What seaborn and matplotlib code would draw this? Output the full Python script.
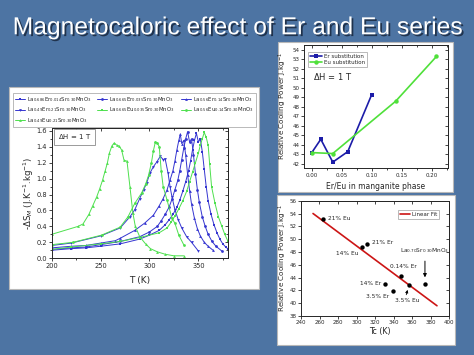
import numpy as np
import seaborn as sns
import matplotlib.pyplot as plt
import matplotlib.patheffects as pe
from matplotlib.patches import Rectangle
from matplotlib.ticker import MultipleLocator
from matplotlib import font_manager

W, H = 474, 355

# ---- main panel: -dS_M vs T, dH = 1 T ----
t_er014 = [200, 220, 235, 250, 270, 290, 300, 310, 316, 320, 324, 328, 331, 334, 337, 340, 342, 344,
           346, 348, 350, 352, 354, 356, 358, 360, 363, 366, 369, 372, 375, 378, 380]
s_er014 = [0.10, 0.12, 0.13, 0.15, 0.18, 0.24, 0.29, 0.35, 0.42, 0.48, 0.55, 0.64, 0.73, 0.84, 0.96, 1.10,
           1.22, 1.36, 1.48, 1.57, 1.46, 1.50, 1.34, 1.12, 0.90, 0.72, 0.55, 0.42, 0.32, 0.24, 0.18, 0.14, 0.12]
t_er035 = [200, 220, 235, 250, 270, 290, 300, 308, 312, 316, 320, 323, 326, 329, 331, 333, 335, 337, 339,
           341, 343, 345, 347, 349, 351, 354, 357, 360, 364, 368, 374]
s_er035 = [0.11, 0.13, 0.14, 0.17, 0.21, 0.27, 0.33, 0.40, 0.47, 0.55, 0.64, 0.74, 0.86, 0.98, 1.10, 1.24,
           1.38, 1.50, 1.59, 1.46, 1.50, 1.30, 1.06, 0.86, 0.70, 0.52, 0.40, 0.30, 0.21, 0.15, 0.09]
t_er14 = [200, 220, 235, 250, 265, 270, 285, 295, 304, 310, 314, 318, 321, 324, 326, 328, 330, 331.5, 333,
          335, 337, 339, 341, 343, 346, 349, 352, 356, 360, 365]
s_er14 = [0.13, 0.15, 0.16, 0.19, 0.22, 0.25, 0.35, 0.44, 0.54, 0.66, 0.75, 0.86, 0.98, 1.10, 1.22, 1.36,
          1.48, 1.56, 1.44, 1.48, 1.30, 1.05, 0.85, 0.68, 0.50, 0.37, 0.28, 0.20, 0.15, 0.10]
t_er21 = [200, 220, 250, 270, 280, 285, 290, 294, 297, 300.5, 304, 307.5, 311, 314, 316, 319, 321, 323,
          326, 329.5, 333, 338, 343, 350]
s_er21 = [0.16, 0.19, 0.28, 0.38, 0.52, 0.61, 0.75, 0.86, 0.94, 1.07, 1.15, 1.21, 1.28, 1.24, 1.25, 1.07,
          0.90, 0.77, 0.61, 0.48, 0.38, 0.27, 0.20, 0.09]
t_eu035 = [200, 220, 250, 270, 290, 310, 318, 322, 326, 330, 334, 338, 341, 344, 347, 350, 352, 354, 356,
           358, 360, 361.5, 363.5, 367, 370.5, 374, 377, 380]
s_eu035 = [0.11, 0.14, 0.18, 0.21, 0.26, 0.32, 0.38, 0.45, 0.53, 0.62, 0.72, 0.84, 0.96, 1.08, 1.20, 1.32,
           1.42, 1.50, 1.58, 1.52, 1.42, 1.19, 0.90, 0.69, 0.52, 0.40, 0.30, 0.22]
t_eu14 = [200, 222, 251, 270, 278, 285, 292, 296, 299, 302, 304, 306, 308, 310, 312, 314, 318, 323, 326,
          330, 335]
s_eu14 = [0.17, 0.20, 0.29, 0.39, 0.52, 0.69, 0.82, 0.93, 1.04, 1.20, 1.35, 1.46, 1.45, 1.40, 1.10, 0.90,
          0.73, 0.50, 0.44, 0.29, 0.17]
t_eu21 = [200, 227, 232, 238, 242, 246, 249, 252, 254.5, 257, 259, 261.5, 264, 266.5, 269, 271.5, 274,
          277, 280, 283, 285.5, 290, 296, 301, 308, 316, 325, 335]
s_eu21 = [0.30, 0.40, 0.43, 0.55, 0.66, 0.77, 0.87, 0.98, 1.09, 1.20, 1.32, 1.41, 1.45, 1.42, 1.41, 1.36,
          1.23, 1.22, 0.90, 0.57, 0.40, 0.27, 0.18, 0.12, 0.08, 0.05, 0.03, 0.03]

names = [r'La$_{0.686}$Er$_{0.014}$Sr$_{0.30}$MnO$_3$', r'La$_{0.665}$Er$_{0.035}$Sr$_{0.30}$MnO$_3$',
         r'La$_{0.56}$Er$_{0.14}$Sr$_{0.30}$MnO$_3$', r'La$_{0.49}$Er$_{0.21}$Sr$_{0.30}$MnO$_3$',
         r'La$_{0.665}$Eu$_{0.035}$Sr$_{0.30}$MnO$_3$', r'La$_{0.56}$Eu$_{0.14}$Sr$_{0.30}$MnO$_3$',
         r'La$_{0.49}$Eu$_{0.21}$Sr$_{0.30}$MnO$_3$']

# ---- top right: RCP vs substitution ----
x_er = [0.0, 0.015, 0.035, 0.06, 0.10]
rcp_er = [43.2, 44.6, 42.2, 43.3, 49.3]
x_eu = [0.0, 0.035, 0.14, 0.208]
rcp_eu = [43.2, 43.1, 48.6, 53.3]

# ---- bottom right: RCP vs Tc ----
tc = [264, 311, 306, 348, 331, 339, 357, 374]
rcp = [53.2, 49.3, 48.7, 44.3, 43.0, 41.9, 42.8, 43.0]
pt_labels = ['21% Eu', '21% Er', '14% Eu', '0.14% Er', '14% Er', '3.5% Er', '3.5% Eu', '']
fit_x = [253, 387]
fit_y = [54.0, 39.6]

sns.set_style('ticks')
plt.rcParams['font.family'] = ['DejaVu Sans']
plt.rcParams['mathtext.fontset'] = 'dejavusans'
plt.rcParams['axes.linewidth'] = 0.7

fig = plt.figure(figsize=(W / 100, H / 100), dpi=100)
fig.patch.set_facecolor('#4d74a3')


def box(x0, y0, x1, y1):
    # pixel box (y from top) -> figure fraction rect
    return [x0 / W, 1 - y1 / H, (x1 - x0) / W, (y1 - y0) / H]


def fx(x):
    return x / W


def fy(y):
    return 1 - y / H


for b in [(9, 87, 259, 289), (278, 42, 453, 192), (277, 195, 455, 345)]:
    r = box(*b)
    fig.patches.append(Rectangle(r[:2], r[2], r[3], transform=fig.transFigure,
                                 facecolor='white', edgecolor='#b8b8b8', lw=0.8, zorder=-1))


def mirror(ax, xmaj, ymaj, xmin=None, ymin=None):
    sx = ax.secondary_xaxis('top')
    sx.xaxis.set_major_locator(MultipleLocator(xmaj))
    if xmin:
        sx.xaxis.set_minor_locator(MultipleLocator(xmin))
    sx.tick_params(which='both', direction='in', labeltop=False, length=2, width=0.6)
    sx.tick_params(which='minor', length=1.2)
    sy = ax.secondary_yaxis('right')
    sy.yaxis.set_major_locator(MultipleLocator(ymaj))
    if ymin:
        sy.yaxis.set_minor_locator(MultipleLocator(ymin))
    sy.tick_params(which='both', direction='in', labelright=False, length=2, width=0.6)
    sy.tick_params(which='minor', length=1.2)


# main panel
ax = fig.add_axes(box(51.7, 127.7, 227.7, 258.2))
blue = '#3535d0'
green = '#4ee04e'
series = [(t_er014, s_er014, blue, 's'), (t_er035, s_er035, blue, 'o'), (t_er14, s_er14, blue, '^'),
          (t_er21, s_er21, blue, 'v'), (t_eu035, s_eu035, green, 's'), (t_eu14, s_eu14, green, 'o'),
          (t_eu21, s_eu21, green, '^')]
handles = []
for (t, s, c, m), nm in zip(series, names):
    sns.lineplot(x=t, y=s, ax=ax, color=c, marker=m, markersize=2.0, markeredgewidth=0,
                 linewidth=0.7, sort=False, estimator=None, label=nm)
    handles.append(ax.lines[-1])
ax.set_xlim(200, 380)
ax.set_ylim(0, 1.64)
ax.xaxis.set_major_locator(MultipleLocator(50))
ax.xaxis.set_minor_locator(MultipleLocator(25))
ax.yaxis.set_major_locator(MultipleLocator(0.2))
ax.yaxis.set_minor_locator(MultipleLocator(0.1))
ax.yaxis.set_major_formatter(plt.FormatStrFormatter('%.1f'))
ax.tick_params(which='both', labelsize=4.8, length=2, width=0.6, pad=1.5)
ax.tick_params(which='minor', length=1.2)
mirror(ax, 50, 0.2, 25, 0.1)
order = [0, 3, 6, 1, 4, 2, 5]
ax.legend([handles[i] for i in order], [names[i] for i in order], ncol=3, loc='upper left',
          bbox_to_anchor=box(13, 93, 256, 124), bbox_transform=fig.transFigure, mode='expand',
          borderaxespad=0, fontsize=3.9, handlelength=1.8, handletextpad=0.4, columnspacing=0.5,
          labelspacing=0.25, borderpad=0.4, frameon=True, fancybox=False, edgecolor='#9a9a9a')
ax.get_legend().get_frame().set_linewidth(0.6)
ax.text(0.13, 0.93, r'$\Delta$H = 1 T', transform=ax.transAxes, ha='center', va='center', fontsize=5,
        bbox=dict(boxstyle='square,pad=0.5', fc='white', ec='#8a8a8a', lw=0.6))
fig.text(fx(139.7), fy(280), 'T (K)', ha='center', va='center', fontsize=6.5)
fig.text(fx(29), fy(193), r'-$\Delta$S$_M$ (J.K$^{-1}$.kg$^{-1}$)', ha='center', va='center',
         rotation=90, fontsize=6.2)

# top right panel
ax2 = fig.add_axes(box(304.3, 45, 447.7, 168.3))
sns.lineplot(x=x_er, y=rcp_er, ax=ax2, color='#1c1ca8', marker='s', markersize=3.2, markeredgewidth=0,
             linewidth=1.2, sort=False, estimator=None, label='Er substitution')
sns.lineplot(x=x_eu, y=rcp_eu, ax=ax2, color='#4fe03a', marker='o', markersize=3.2, markeredgewidth=0,
             linewidth=1.2, sort=False, estimator=None, label='Eu substitution')
ax2.set_xlim(-0.0125, 0.2267)
ax2.set_ylim(41.55, 54.5)
ax2.xaxis.set_major_locator(MultipleLocator(0.05))
ax2.xaxis.set_minor_locator(MultipleLocator(0.025))
ax2.yaxis.set_major_locator(MultipleLocator(1))
ax2.xaxis.set_major_formatter(plt.FormatStrFormatter('%.2f'))
ax2.tick_params(which='both', labelsize=4.0, length=2, width=0.6, pad=1.2)
ax2.tick_params(which='minor', length=1.2)
mirror(ax2, 0.05, 1, 0.025)
ax2.legend(loc='upper left', bbox_to_anchor=(fx(308), fy(52)), bbox_transform=fig.transFigure,
           fontsize=4.0, handlelength=2.2, handletextpad=0.4, labelspacing=0.2, borderpad=0.35,
           borderaxespad=0, frameon=True, fancybox=False, edgecolor='#9a9a9a')
ax2.get_legend().get_frame().set_linewidth(0.6)
fig.text(fx(333), fy(76), r'$\Delta$H = 1 T', ha='center', va='center', fontsize=6)
fig.text(fx(376), fy(186.7), 'Er/Eu in manganite phase', ha='center', va='center', fontsize=5.5)
fig.text(fx(283), fy(106), r'Relative Cooling Power J.kg$^{-1}$', ha='center', va='center',
         rotation=90, fontsize=5.2)

# bottom right panel
ax3 = fig.add_axes(box(301, 200.7, 449, 316))
sns.lineplot(x=fit_x, y=fit_y, ax=ax3, color='#cc1515', linewidth=1.2, sort=False, estimator=None,
             label='Linear Fit')
sns.scatterplot(x=tc, y=rcp, ax=ax3, color='black', s=10, linewidth=0, legend=False, zorder=3)
ax3.set_xlim(240, 400)
ax3.set_ylim(38, 56)
ax3.xaxis.set_major_locator(MultipleLocator(20))
ax3.yaxis.set_major_locator(MultipleLocator(2))
ax3.tick_params(which='both', labelsize=4.0, length=2, width=0.6, pad=1.2)
mirror(ax3, 20, 2)
ax3.legend(loc='upper left', bbox_to_anchor=(fx(398), fy(210)), bbox_transform=fig.transFigure,
           fontsize=4.0, handlelength=1.8, handletextpad=0.4, borderpad=0.35, borderaxespad=0,
           frameon=True, fancybox=False, edgecolor='#9a9a9a')
ax3.get_legend().get_frame().set_linewidth(0.6)

offsets = [(5, 0, 'left', 'center'), (5, 1, 'left', 'center'), (-4, -6, 'right', 'center'),
           (2, 7, 'center', 'bottom'), (-4, 0, 'right', 'center'), (-3, -5, 'right', 'center'),
           (-2, -15, 'center', 'center')]
for x, y, lab, (dx, dy, ha, va) in zip(tc, rcp, pt_labels, offsets):
    ax3.annotate(lab, (x, y), xytext=(dx, dy), textcoords='offset pixels', ha=ha, va=va, fontsize=4.2)
ax3.annotate('', xy=(356, 42.5), xytext=(353, 40.9),
             arrowprops=dict(arrowstyle='-|>', color='black', lw=0.6, mutation_scale=4))
ax3.annotate('', xy=(374, 43.6), xytext=(374, 47.0),
             arrowprops=dict(arrowstyle='-|>', color='black', lw=0.7, mutation_scale=5))
ax3.text(374, 47.6, r'La$_{0.70}$Sr$_{0.30}$MnO$_3$', ha='center', va='bottom', fontsize=4.2)
fig.text(fx(380), fy(331.7), 'Tc (K)', ha='center', va='center', fontsize=5.8)
fig.text(fx(283), fy(258), r'Relative Cooling Power J.kg$^{-1}$', ha='center', va='center',
         rotation=90, fontsize=5.2)

# slide title
fams = {f.name for f in font_manager.fontManager.ttflist}
tfam = 'Liberation Sans Narrow' if 'Liberation Sans Narrow' in fams else 'Liberation Sans'
title = fig.text(fx(12.7), fy(34.3), 'Magnetocaloric effect of Er and Eu series', ha='left',
                 va='baseline', color='white', fontsize=20, family=tfam,
                 path_effects=[pe.withSimplePatchShadow(offset=(1.3, -1.3), shadow_rgbFace='#1c2c44',
                                                        alpha=0.9)])
rend = fig.canvas.get_renderer()
wpx = title.get_window_extent(rend).width
title.set_fontsize(20 * 449 / wpx)

fig.savefig('out.png', dpi=100, facecolor=fig.get_facecolor())
